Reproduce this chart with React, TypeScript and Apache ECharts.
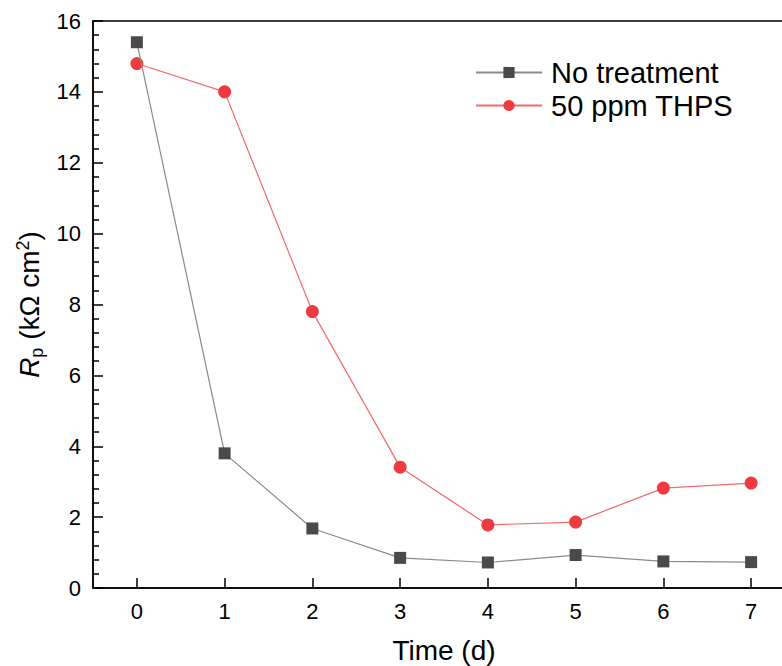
import React, { useEffect, useRef } from "react";
import * as echarts from "echarts";

const days = ["0", "1", "2", "3", "4", "5", "6", "7"];
const noTreatment = [15.4, 3.8, 1.68, 0.85, 0.72, 0.93, 0.75, 0.73];
const thps = [14.8, 14.0, 7.8, 3.41, 1.78, 1.86, 2.82, 2.96];
const seriesNames = ["No treatment", "50 ppm THPS"];

const FONT = "Liberation Sans, Arial, sans-serif";

export default function App() {
  const ref = useRef<HTMLDivElement>(null);
  useEffect(() => {
    if (!ref.current) return;
    document.body.style.margin = "0";
    document.body.style.overflow = "hidden";
    const chart = echarts.init(ref.current, undefined, { renderer: "svg" });
    chart.setOption({
      animation: false,
      backgroundColor: "#ffffff",
      grid: {
        left: 93,
        right: -13,
        top: 21,
        bottom: 78,
        show: true,
        borderColor: "#000",
        borderWidth: 1.5,
        backgroundColor: "transparent",
        containLabel: false,
        outerBoundsMode: "none",
      },
      legend: {
        orient: "vertical",
        left: 470,
        top: 53,
        itemWidth: 66,
        itemHeight: 14,
        itemGap: 4,
        textStyle: { fontFamily: FONT, fontSize: 29, color: "#000", padding: [0, 0, 0, 4] },
        data: seriesNames,
      },
      xAxis: {
        type: "category",
        data: days,
        boundaryGap: true,
        name: "Time (d)",
        nameLocation: "middle",
        nameGap: 48,
        nameTextStyle: { fontFamily: FONT, fontSize: 28, color: "#000" },
        axisLine: { lineStyle: { color: "#000", width: 1.5 } },
        axisTick: { show: true, inside: true, length: 10, alignWithLabel: true, lineStyle: { color: "#000", width: 1.5 } },
        axisLabel: { fontFamily: FONT, fontSize: 22, color: "#000", margin: 12 },
        splitLine: { show: false },
      },
      yAxis: {
        type: "value",
        min: 0,
        max: 16,
        interval: 2,
        name: "{i|R}{s|p}{n| (kΩ cm}{sup|2}{n|)}",
        nameLocation: "middle",
        nameGap: 46,
        nameRotate: 90,
        nameTextStyle: {
          fontFamily: FONT,
          fontSize: 28,
          color: "#000",
          rich: {
            i: { fontFamily: FONT, fontSize: 28, fontStyle: "italic", color: "#000", lineHeight: 32, verticalAlign: "middle" },
            s: { fontFamily: FONT, fontSize: 18, color: "#000", lineHeight: 18, verticalAlign: "bottom" },
            n: { fontFamily: FONT, fontSize: 28, color: "#000", lineHeight: 32, verticalAlign: "middle" },
            sup: { fontFamily: FONT, fontSize: 18, color: "#000", lineHeight: 18, verticalAlign: "top" },
          },
        },
        axisLine: { show: true, lineStyle: { color: "#000", width: 1.5 } },
        axisTick: { show: true, inside: true, length: 10, lineStyle: { color: "#000", width: 1.5 } },
        minorTick: { show: true, splitNumber: 5, length: 6, lineStyle: { color: "#000", width: 1.5 } },
        axisLabel: { fontFamily: FONT, fontSize: 22, color: "#000", margin: 12 },
        splitLine: { show: false },
      },
      series: [
        {
          name: seriesNames[0],
          type: "line",
          data: noTreatment,
          symbol: "rect",
          symbolSize: 12,
          itemStyle: { color: "#4a4a4a" },
          lineStyle: { color: "#8a8a8a", width: 1.2 },
          z: 3,
        },
        {
          name: seriesNames[1],
          type: "line",
          data: thps,
          symbol: "circle",
          symbolSize: 13,
          itemStyle: { color: "#ef3b3f" },
          lineStyle: { color: "#f26a6a", width: 1.2 },
          z: 2,
        },
      ],
    });
    return () => chart.dispose();
  }, []);
  return (
    <div style={{ position: "fixed", left: 0, top: 0, width: 782, height: 666, overflow: "hidden", background: "#fff" }}>
      <div ref={ref} style={{ width: 782, height: 666 }} />
    </div>
  );
}
